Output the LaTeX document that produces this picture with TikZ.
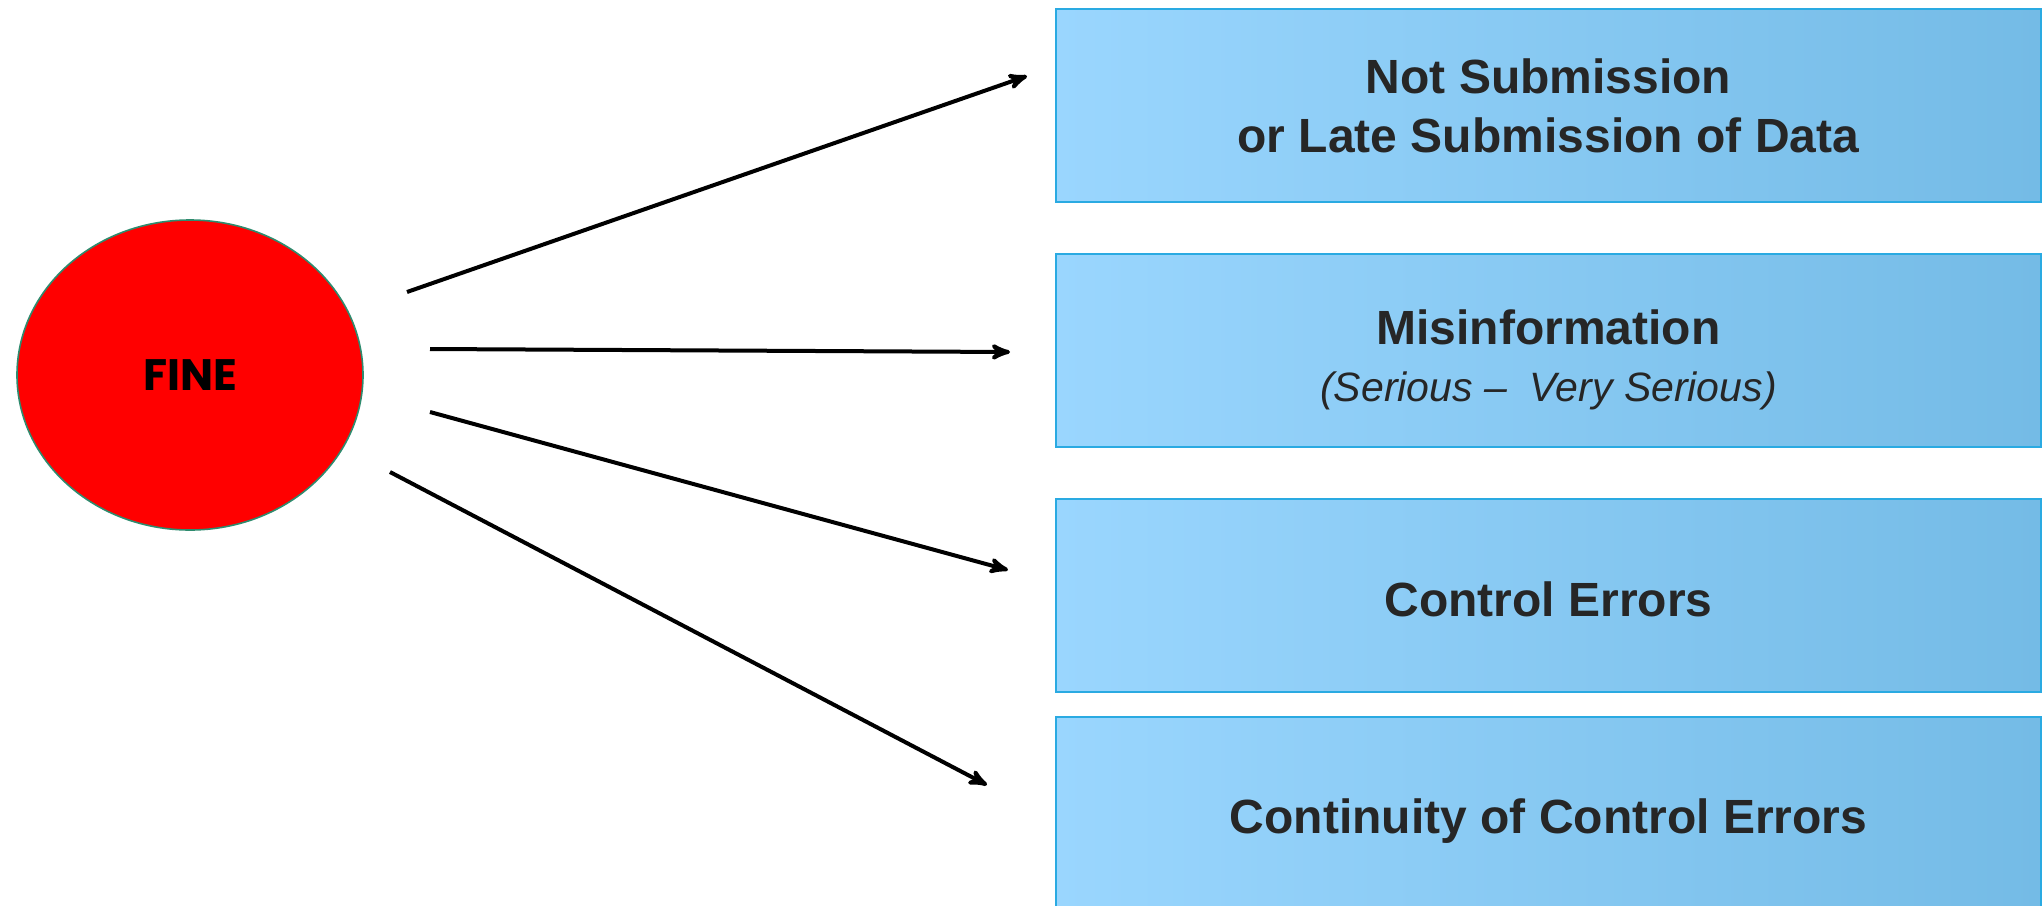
\documentclass[tikz,border=0pt]{standalone}
\usepackage{fontspec}
\setmainfont{Liberation Sans}
\newfontfamily\finefont{Poppins}
\usetikzlibrary{arrows,shapes.geometric}
\definecolor{finered}{HTML}{FF0000}
\definecolor{fineedge}{HTML}{2E8B6E}
\definecolor{boxleft}{HTML}{9AD6FE}
\definecolor{boxright}{HTML}{74BBE6}
\definecolor{boxedge}{HTML}{2AAAE2}
\definecolor{boxtext}{HTML}{262626}
\newcommand{\asidefont}{\fontsize{20.5}{24}\selectfont\mdseries\itshape}

\begin{document}
\begin{tikzpicture}[->,>=stealth',x=0.5pt,y=-0.5pt,line width=2pt]
  \tikzstyle{penalty}=[ellipse,draw=fineedge,line width=0.8pt,fill=finered,
                       minimum width=173pt,minimum height=155pt,inner sep=0pt,
                       font=\finefont\bfseries\fontsize{22}{26}\selectfont]
  \tikzstyle{cause}=[rectangle,draw=boxedge,line width=1pt,
                     left color=boxleft,right color=boxright,
                     minimum width=492.5pt,minimum height=96.5pt,inner sep=0pt,
                     text=boxtext,align=center,
                     font=\fontsize{24}{29.5}\selectfont]

  \clip (0,0) rectangle (2044,905);

  \node[penalty] (fine) at (190,375) {FINE};

  \node[cause] (sub)     at (1548.5,105.5) {\textbf{Not Submission}\\\textbf{or Late Submission of Data}};
  \node[cause] (misinfo) at (1548.5,350.5) {\rule{0pt}{26.5pt}\textbf{Misinformation}\\[-1pt]{\asidefont (Serious --\ \ Very Serious)}};
  \node[cause] (ctrl)    at (1548.5,595)   {\rule{0pt}{21.5pt}\textbf{Control Errors}};
  \node[cause,minimum height=104.5pt] (cont) at (1548.5,821.5) {\textbf{Continuity of Control Errors}};

  % arrow ends, kept apart from the shapes
  \coordinate (f1) at (407,292);  \coordinate (t1) at (1027,76);
  \coordinate (f2) at (430,349);  \coordinate (t2) at (1010,352);
  \coordinate (f3) at (430,412);  \coordinate (t3) at (1008,570);
  \coordinate (f4) at (390,472);  \coordinate (t4) at (987,785);

  \path (f1) edge (t1)
        (f2) edge (t2)
        (f3) edge (t3)
        (f4) edge (t4);

\end{tikzpicture}
\end{document}
